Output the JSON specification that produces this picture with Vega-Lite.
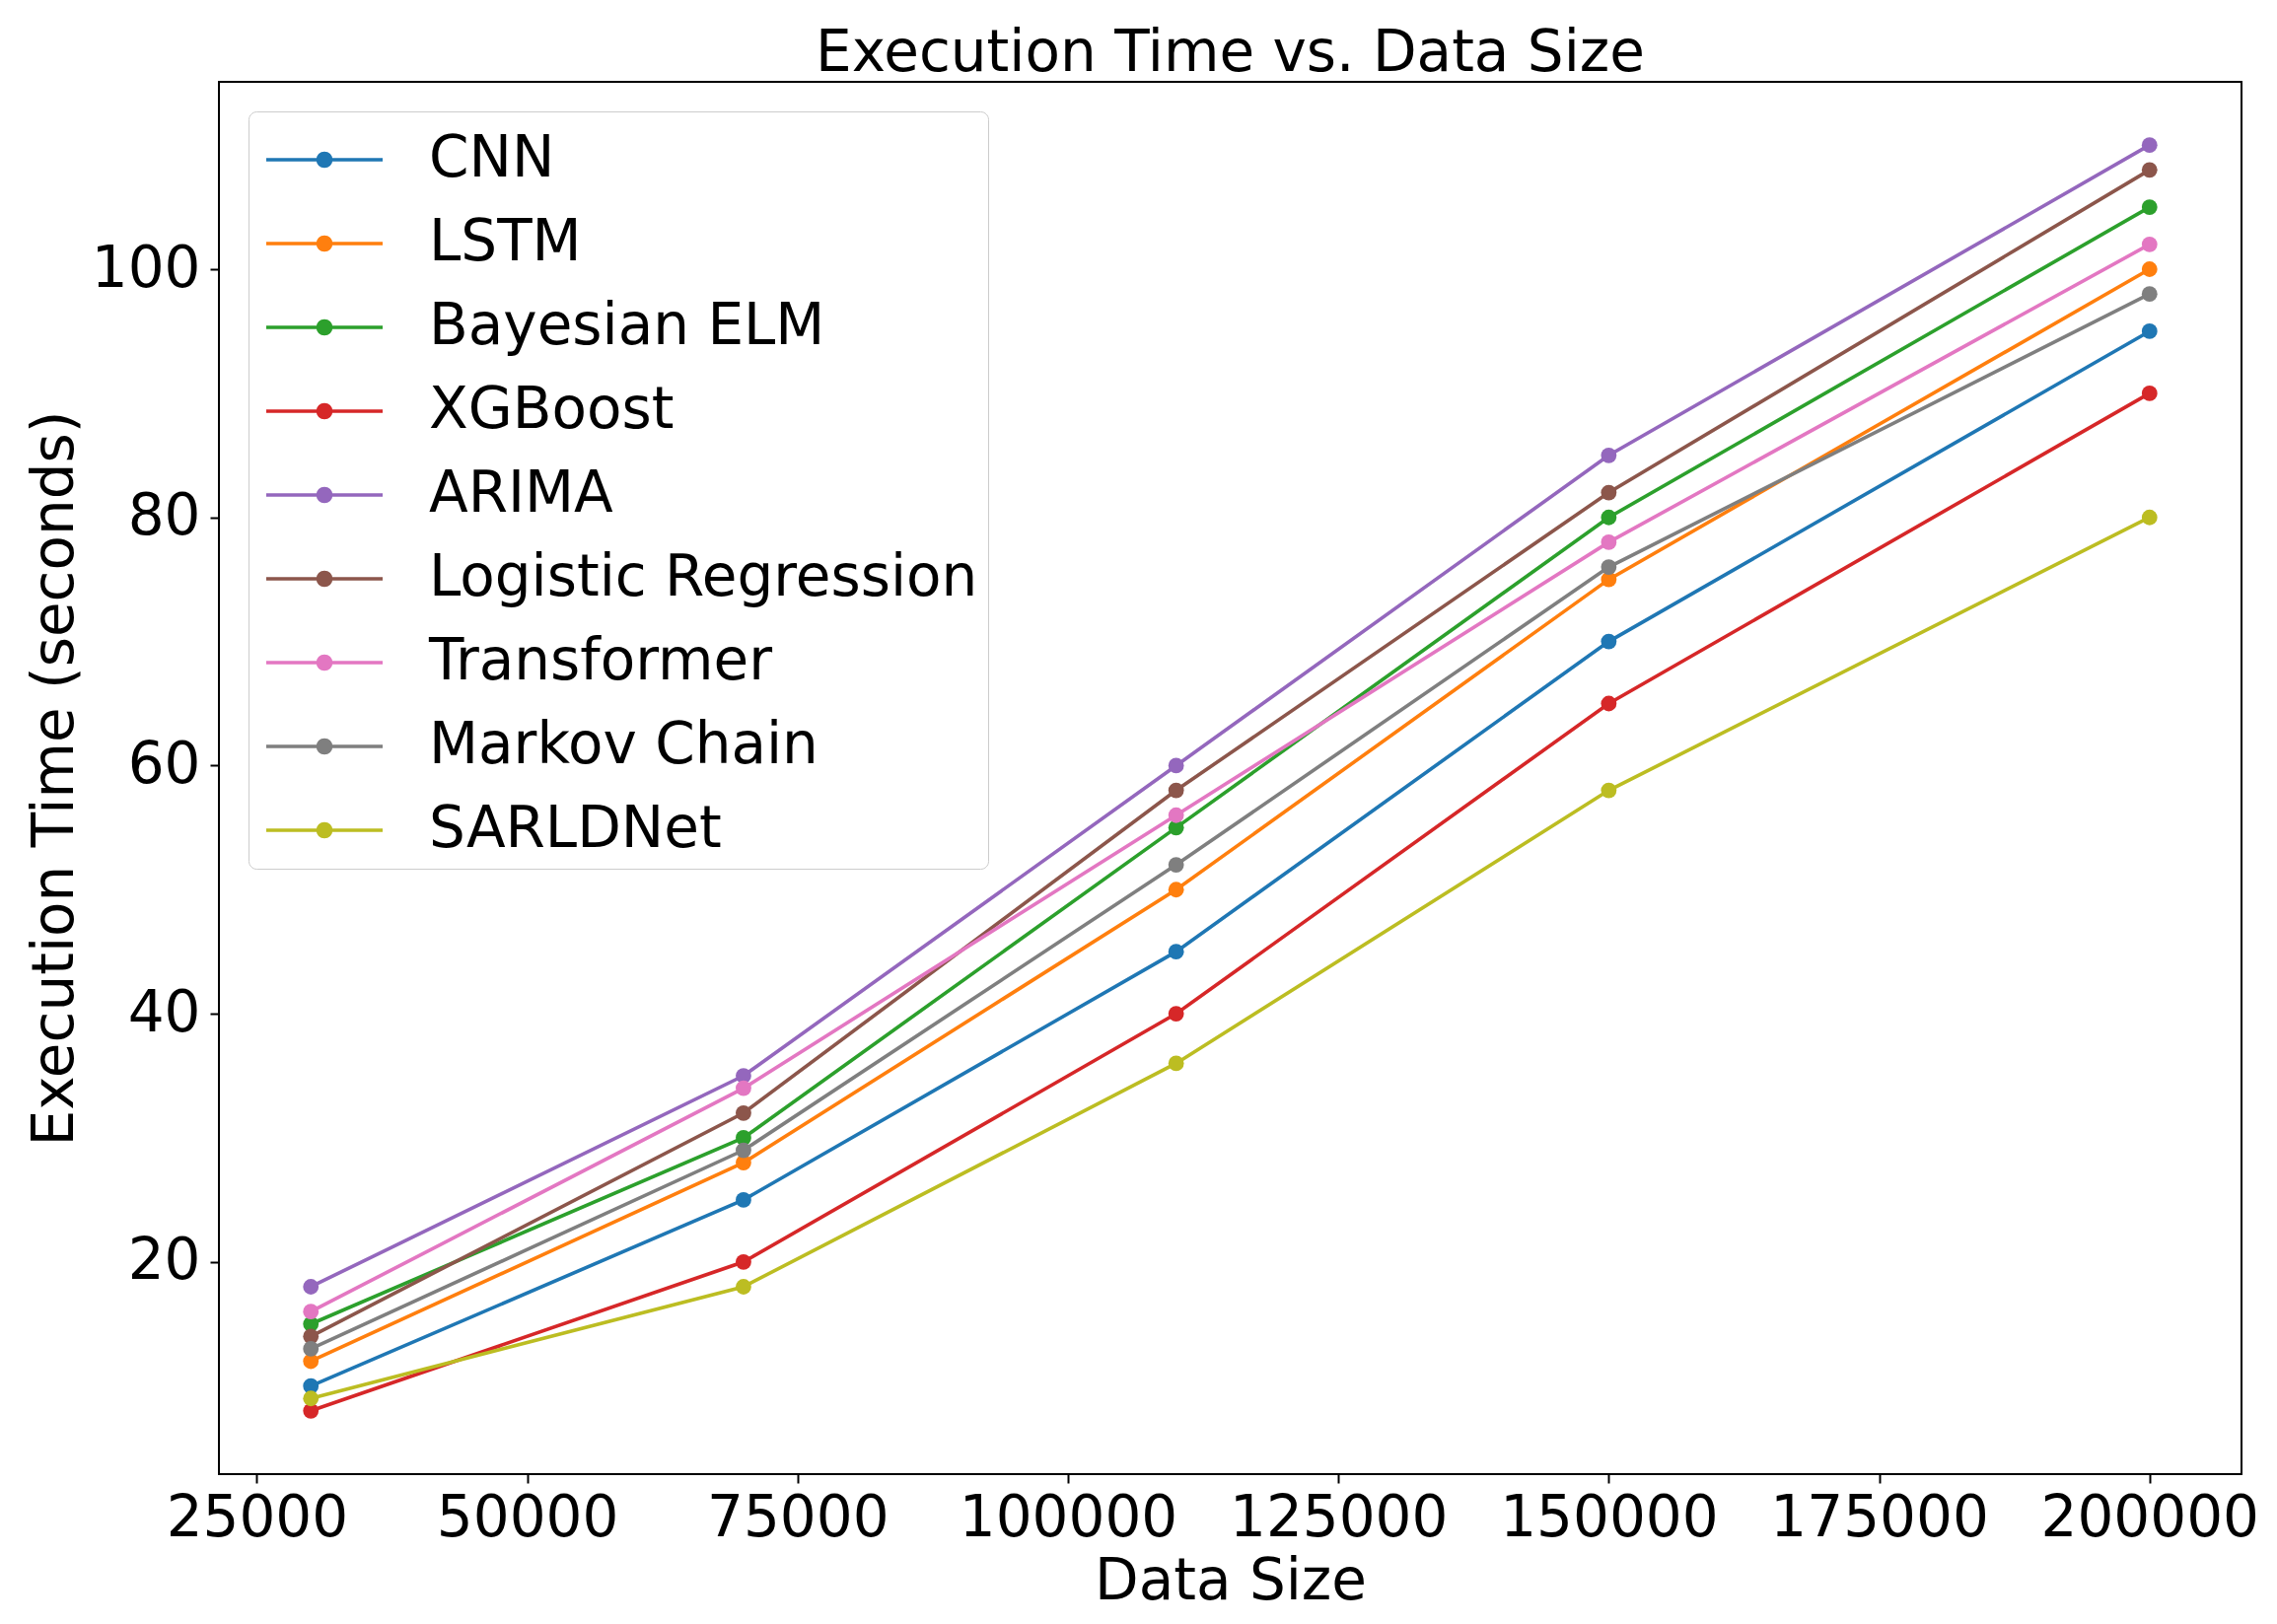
{
  "$schema": "https://vega.github.io/schema/vega-lite/v6.json",
  "autosize": {"type": "none"},
  "width": 2051,
  "height": 1412,
  "padding": {"left": 222, "top": 83, "right": 36, "bottom": 152},
  "background": "white",
  "config": {
    "font": "DejaVu Sans",
    "view": {"stroke": "black", "strokeWidth": 2},
    "axis": {
      "domain": false,
      "grid": false,
      "labelFont": "DejaVu Sans",
      "labelFontSize": 58,
      "labelColor": "black",
      "labelLimit": 1000,
      "titleFont": "DejaVu Sans",
      "titleFontSize": 58,
      "titleFontWeight": "normal",
      "titleColor": "black",
      "tickColor": "black",
      "tickWidth": 2,
      "tickSize": 9
    }
  },
  "title": {
    "text": "Execution Time vs. Data Size",
    "font": "DejaVu Sans",
    "fontSize": 58,
    "fontWeight": "normal",
    "color": "black",
    "anchor": "middle",
    "baseline": "alphabetic",
    "offset": 12,
    "dy": 59
  },
  "data": {
    "values": [
      {"model": "CNN", "size": 30000, "time": 10},
      {"model": "CNN", "size": 70000, "time": 25},
      {"model": "CNN", "size": 110000, "time": 45},
      {"model": "CNN", "size": 150000, "time": 70},
      {"model": "CNN", "size": 200000, "time": 95},
      {"model": "LSTM", "size": 30000, "time": 12},
      {"model": "LSTM", "size": 70000, "time": 28},
      {"model": "LSTM", "size": 110000, "time": 50},
      {"model": "LSTM", "size": 150000, "time": 75},
      {"model": "LSTM", "size": 200000, "time": 100},
      {"model": "Bayesian ELM", "size": 30000, "time": 15},
      {"model": "Bayesian ELM", "size": 70000, "time": 30},
      {"model": "Bayesian ELM", "size": 110000, "time": 55},
      {"model": "Bayesian ELM", "size": 150000, "time": 80},
      {"model": "Bayesian ELM", "size": 200000, "time": 105},
      {"model": "XGBoost", "size": 30000, "time": 8},
      {"model": "XGBoost", "size": 70000, "time": 20},
      {"model": "XGBoost", "size": 110000, "time": 40},
      {"model": "XGBoost", "size": 150000, "time": 65},
      {"model": "XGBoost", "size": 200000, "time": 90},
      {"model": "ARIMA", "size": 30000, "time": 18},
      {"model": "ARIMA", "size": 70000, "time": 35},
      {"model": "ARIMA", "size": 110000, "time": 60},
      {"model": "ARIMA", "size": 150000, "time": 85},
      {"model": "ARIMA", "size": 200000, "time": 110},
      {"model": "Logistic Regression", "size": 30000, "time": 14},
      {"model": "Logistic Regression", "size": 70000, "time": 32},
      {"model": "Logistic Regression", "size": 110000, "time": 58},
      {"model": "Logistic Regression", "size": 150000, "time": 82},
      {"model": "Logistic Regression", "size": 200000, "time": 108},
      {"model": "Transformer", "size": 30000, "time": 16},
      {"model": "Transformer", "size": 70000, "time": 34},
      {"model": "Transformer", "size": 110000, "time": 56},
      {"model": "Transformer", "size": 150000, "time": 78},
      {"model": "Transformer", "size": 200000, "time": 102},
      {"model": "Markov Chain", "size": 30000, "time": 13},
      {"model": "Markov Chain", "size": 70000, "time": 29},
      {"model": "Markov Chain", "size": 110000, "time": 52},
      {"model": "Markov Chain", "size": 150000, "time": 76},
      {"model": "Markov Chain", "size": 200000, "time": 98},
      {"model": "SARLDNet", "size": 30000, "time": 9},
      {"model": "SARLDNet", "size": 70000, "time": 18},
      {"model": "SARLDNet", "size": 110000, "time": 36},
      {"model": "SARLDNet", "size": 150000, "time": 58},
      {"model": "SARLDNet", "size": 200000, "time": 80}
    ]
  },
  "encoding": {
    "x": {
      "field": "size",
      "type": "quantitative",
      "title": "Data Size",
      "scale": {"domain": [21500, 208500], "nice": false, "zero": false},
      "axis": {
        "values": [25000, 50000, 75000, 100000, 125000, 150000, 175000, 200000],
        "format": "d",
        "labelPadding": 7,
        "titlePadding": 6
      }
    },
    "y": {
      "field": "time",
      "type": "quantitative",
      "title": "Execution Time (seconds)",
      "scale": {"domain": [2.9, 115.1], "nice": false, "zero": false},
      "axis": {
        "values": [20, 40, 60, 80, 100],
        "labelPadding": 10,
        "titlePadding": 7
      }
    },
    "color": {
      "field": "model",
      "type": "nominal",
      "scale": {
        "domain": ["CNN", "LSTM", "Bayesian ELM", "XGBoost", "ARIMA", "Logistic Regression", "Transformer", "Markov Chain", "SARLDNet"],
        "range": ["#1f77b4", "#ff7f0e", "#2ca02c", "#d62728", "#9467bd", "#8c564b", "#e377c2", "#7f7f7f", "#bcbd22"]
      },
      "legend": {
        "title": null,
        "orient": "top-left",
        "offset": 30,
        "padding": 10,
        "fillColor": "white",
        "strokeColor": "#cccccc",
        "cornerRadius": 8,
        "labelFont": "DejaVu Sans",
        "labelFontSize": 58,
        "labelColor": "black",
        "labelLimit": 1000,
        "labelOffset": 95,
        "symbolType": "M-0.795,-0.046H2.231V0.046H-0.795Z M0.931,0L0.915,0.082L0.869,0.151L0.800,0.197L0.718,0.213L0.636,0.197L0.567,0.151L0.521,0.082L0.505,0L0.521,-0.082L0.567,-0.151L0.636,-0.197L0.718,-0.213L0.800,-0.197L0.869,-0.151L0.915,-0.082Z",
        "symbolSize": 6084,
        "symbolStrokeWidth": 0,
        "rowPadding": 17
      }
    }
  },
  "layer": [
    {
      "mark": {"type": "line", "strokeWidth": 3.6}
    },
    {
      "mark": {"type": "point", "filled": true, "size": 250, "opacity": 1}
    }
  ]
}
